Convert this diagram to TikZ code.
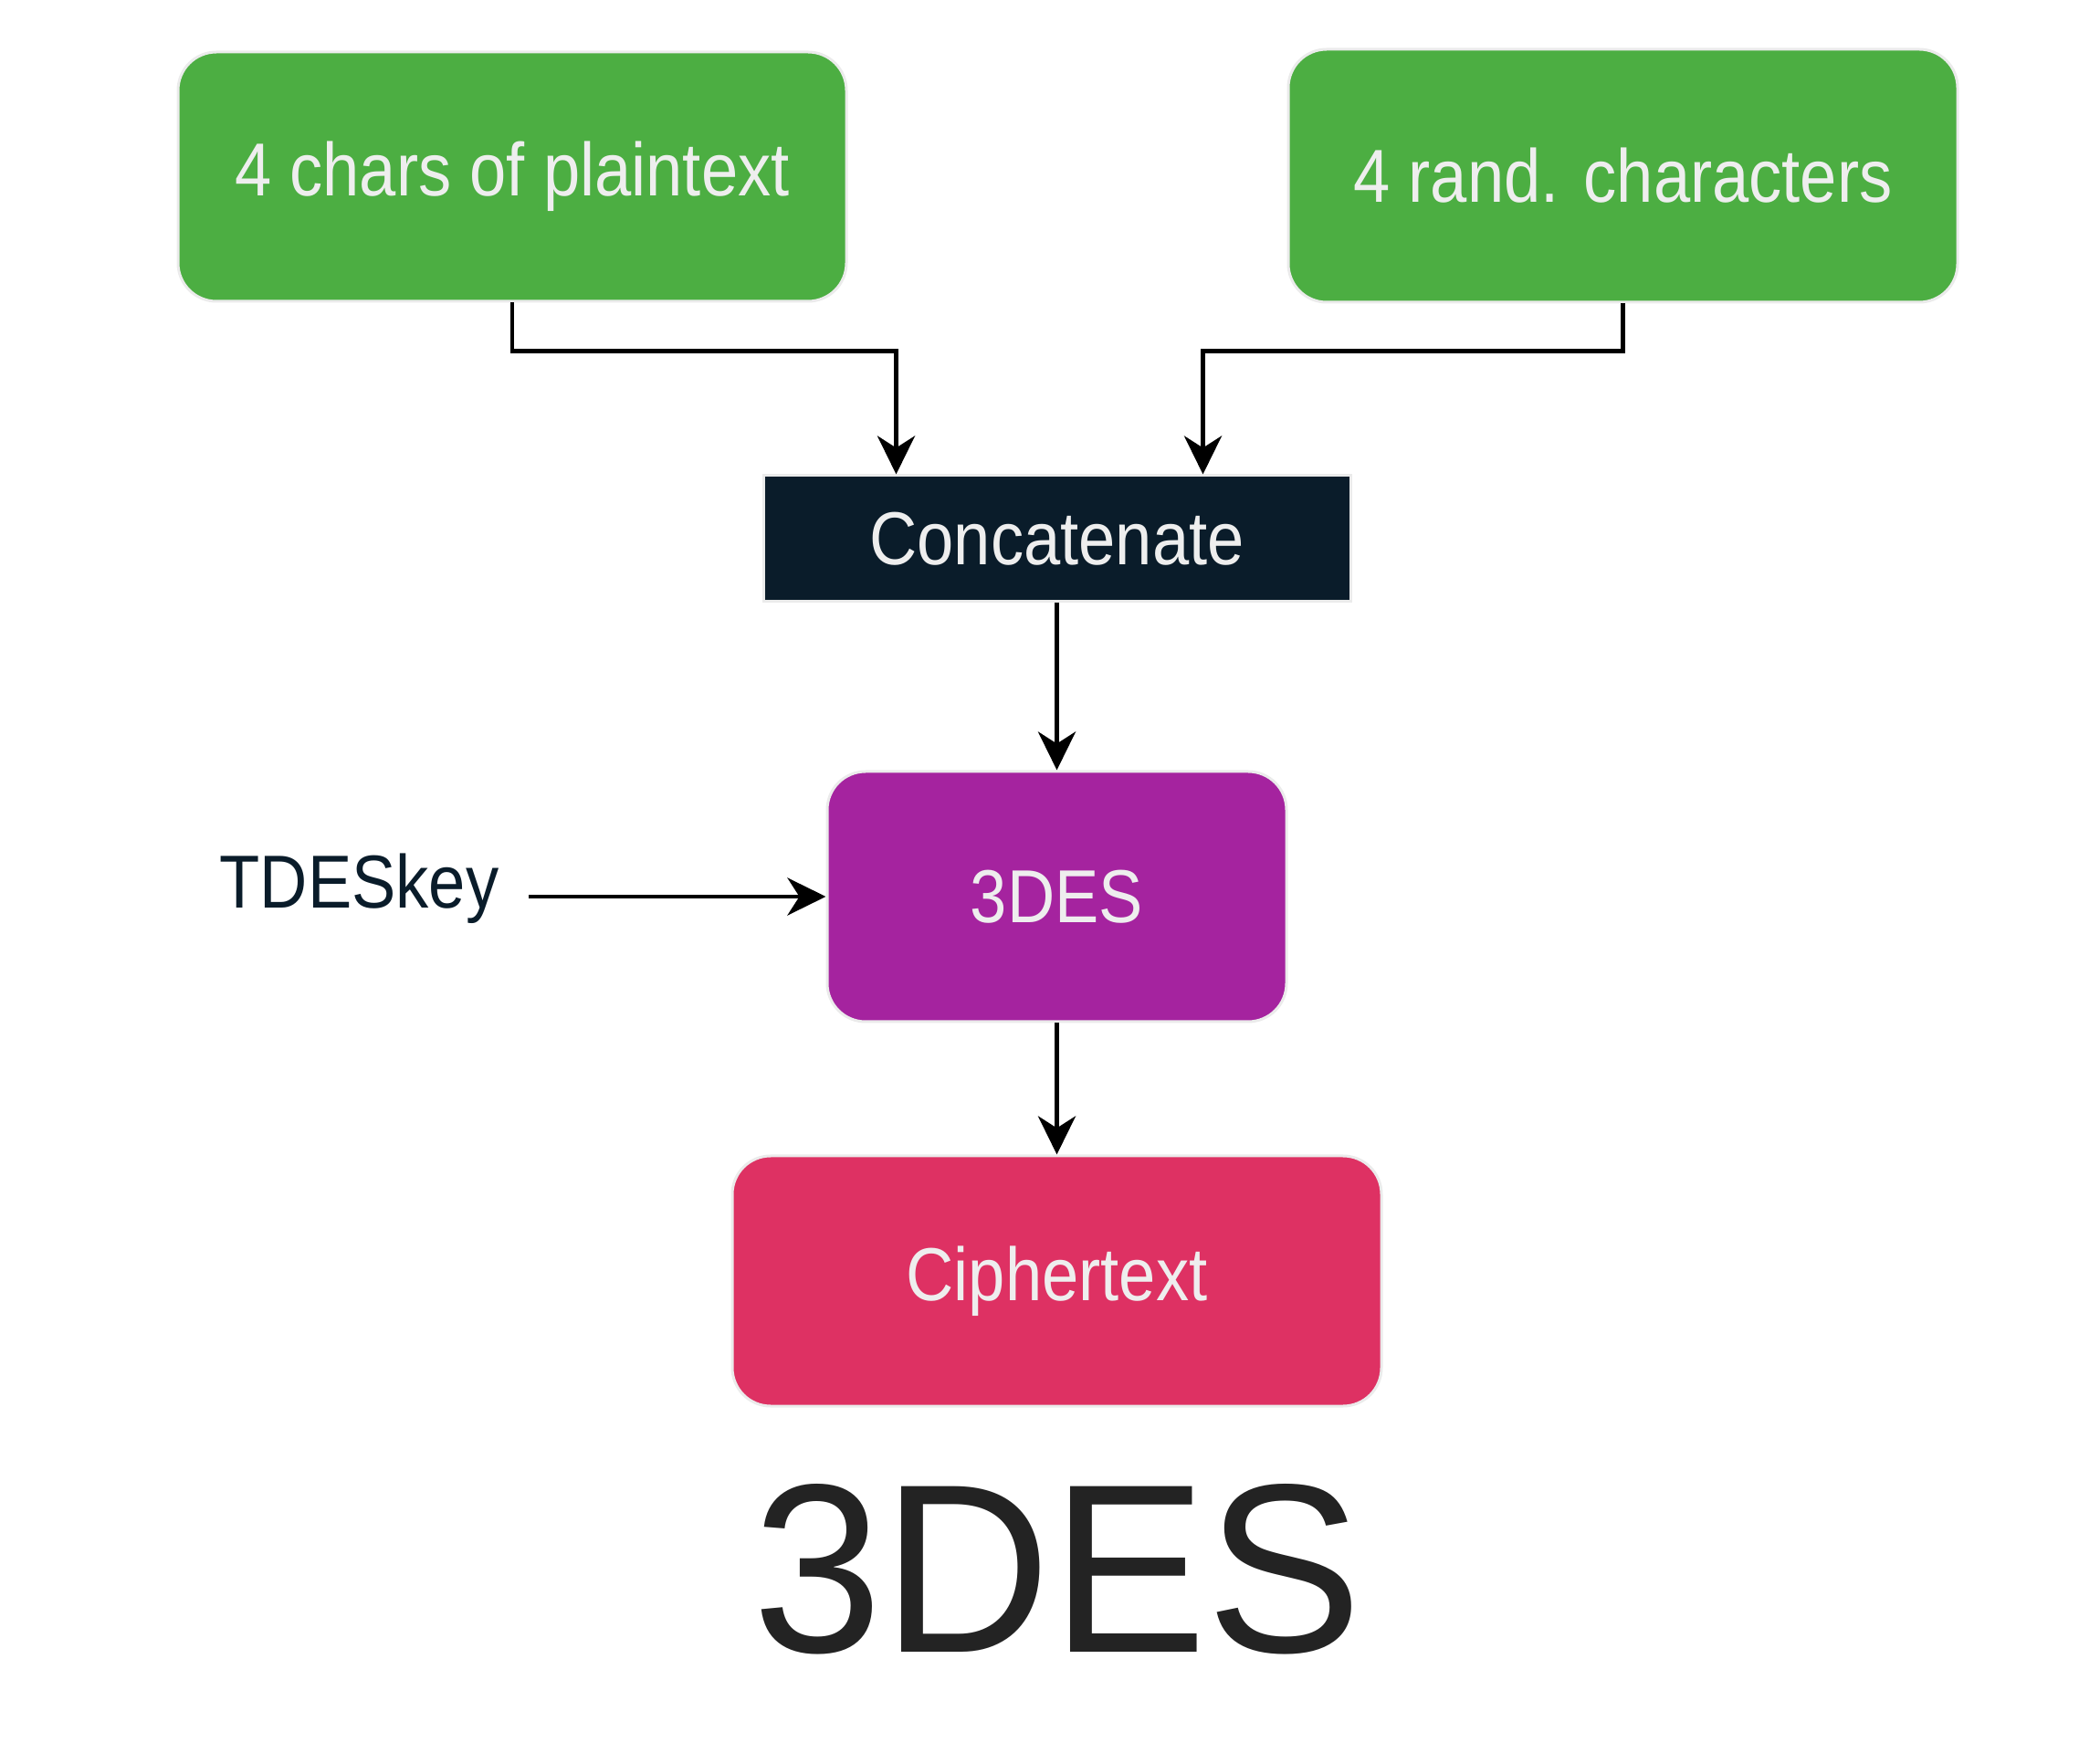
\documentclass[tikz,border=0pt]{standalone}
\usepackage{fontspec}
\newfontfamily\boxfont{Liberation Sans}[FakeStretch=0.88]
\newfontfamily\titlefont{Liberation Sans}[FakeStretch=0.97]
\usetikzlibrary{positioning,arrows.meta}
\definecolor{boxgreen}{HTML}{4CAE42}
\definecolor{boxpurple}{HTML}{A5239F}
\definecolor{boxred}{HTML}{DE3163}
\definecolor{boxnavy}{HTML}{0A1C2A}
\definecolor{boxtext}{HTML}{EEEEEE}
\definecolor{rimgray}{HTML}{EBEBEB}
\definecolor{titlegray}{HTML}{232323}
\tikzstyle{block} = [rectangle, draw=rimgray, line width=0.03cm, fill=boxgreen, text=boxtext, text centered, rounded corners=0.42cm, font=\boxfont\fontsize{23.4}{28}\selectfont]
\tikzstyle{line} = [draw, line width=1.4pt, -{Stealth[length=0.42cm, width=0.41cm, inset=0.13cm]}]

\begin{document}
\begin{tikzpicture}
	\useasboundingbox (0,0) rectangle (23,-19.09);
	\node[block, minimum width=7.32cm, minimum height=2.73cm] (plain) at (5.61,-1.935) {4 chars of plaintext};
	\node[block, minimum width=7.33cm, minimum height=2.77cm] (rand) at (17.775,-1.925) {4 rand. characters};
	\node[block, fill=boxnavy, rounded corners=0pt, minimum width=6.43cm, minimum height=1.38cm] (concat) at (11.575,-5.90) {Concatenate};
	\node[block, fill=boxpurple, minimum width=5.03cm, minimum height=2.74cm, below=1.83cm of concat] (tdes) {3DES};
	\node[block, fill=boxred, minimum width=7.11cm, minimum height=2.74cm, below=1.44cm of tdes] (cipher) {Ciphertext};
	\node[text=boxnavy, font=\boxfont\fontsize{23.4}{28}\selectfont, inner xsep=0.32cm, anchor=base east] (key) at (5.79,-9.95) {TDESkey};
	\node[text=titlegray, font=\titlefont\fontsize{75}{82}\selectfont, anchor=base] (title) at (11.585,-18.09) {3DES};
	
	\path[line] (plain.south) -- ++(0,-0.53) -| ([xshift=-1.76cm]concat.north);
	\path[line] (rand.south) -- ++(0,-0.52) -| ([xshift=1.60cm]concat.north);
	\path[line] (concat) -- (tdes);
	\path[line] (key.east |- tdes) -- (tdes);
	\path[line] (tdes) -- (cipher);
\end{tikzpicture}
\end{document}
